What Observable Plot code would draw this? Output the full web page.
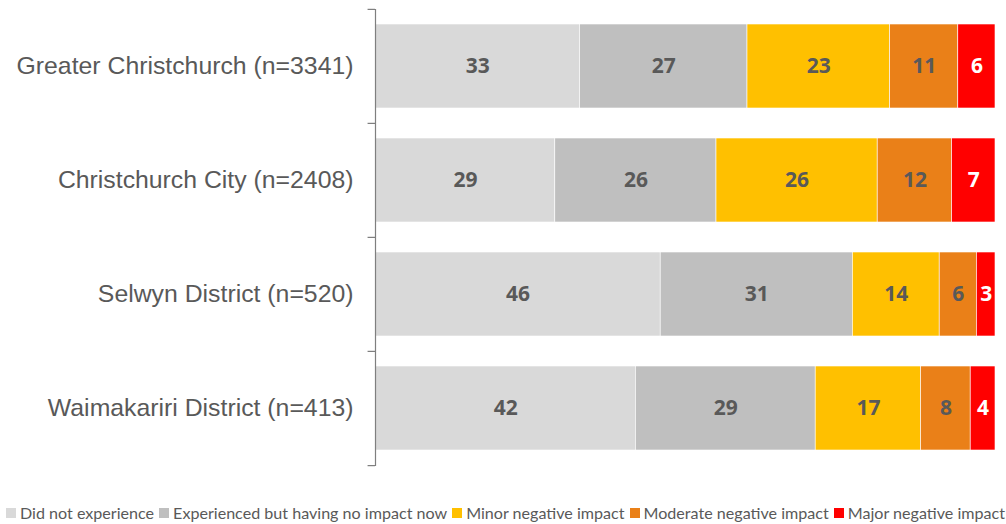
<!DOCTYPE html>
<html>
<head>
<meta charset="utf-8">
<script src="https://cdn.jsdelivr.net/npm/d3@7"></script>
<script src="https://cdn.jsdelivr.net/npm/@observablehq/plot@0.6"></script>
<style>
  html, body { margin: 0; padding: 0; background: #fff; }
  #wrap { position: relative; width: 1006px; height: 524px; overflow: hidden; }
  #legend { position: absolute; left: 0; top: 503px; width: 1006px; display: flex; align-items: center;
            font-family: Lato, "Open Sans", sans-serif; font-size: 16.1px; color: #595959; white-space: nowrap; }
  #legend .item { display: flex; align-items: center; margin-left: 5px; }
  #legend .item:first-child { margin-left: 6px; }
  #legend .sw { width: 10px; height: 10px; margin-right: 4px; }
</style>
</head>
<body>
<div id="wrap"><div id="chart"></div><div id="legend"></div></div>
<script>
// ---- data ----
const categories = [
  "Greater Christchurch (n=3341)",
  "Christchurch City (n=2408)",
  "Selwyn District (n=520)",
  "Waimakariri District (n=413)"
];
const seriesNames = [
  "Did not experience",
  "Experienced but having no impact now",
  "Minor negative impact",
  "Moderate negative impact",
  "Major negative impact"
];
const seriesColors = ["#d9d9d9", "#bfbfbf", "#ffc000", "#ea8018", "#ff0000"];
const greaterChristchurch = [33, 27, 23, 11, 6];
const christchurchCity   = [29, 26, 26, 12, 7];
const selwynDistrict     = [46, 31, 14, 6, 3];
const waimakaririDistrict = [42, 29, 17, 8, 4];

const valuesByCategory = [greaterChristchurch, christchurchCity, selwynDistrict, waimakaririDistrict];
const data = [];
categories.forEach((c, i) => {
  seriesNames.forEach((s, j) => data.push({category: c, series: s, value: valuesByCategory[i][j]}));
});

// ---- layout ----
const W = 1006, H = 496;
const plotTop = 9, plotBottom = 466;
const padIn = 0.26, padOut = 0.13;
const step = (plotBottom - plotTop) / (categories.length - padIn + 2 * padOut);
const major = seriesNames[seriesNames.length - 1];
const textFont = "'Open Sans', Lato, sans-serif";

const chart = Plot.plot({
  width: W,
  height: H,
  marginLeft: 375,
  marginRight: 11,
  marginTop: plotTop,
  marginBottom: H - plotBottom,
  style: {fontFamily: "'Liberation Sans', Arial, sans-serif", color: "#595959", background: "#fff", overflow: "visible"},
  x: {domain: [0, 100], axis: null},
  y: {domain: categories, paddingInner: padIn, paddingOuter: padOut, axis: null},
  color: {domain: seriesNames, range: seriesColors},
  marks: [
    Plot.barX(data, Plot.stackX({x: "value", y: "category", fill: "series", order: seriesNames, stroke: "#fff", strokeWidth: 0.6})),
    Plot.text(data, Plot.filter(d => d.series !== major,
      Plot.stackX({x: "value", y: "category", z: "series", order: seriesNames, text: d => String(d.value),
                   fill: "#595959", fontWeight: "bold", fontSize: 21, fontFamily: textFont}))),
    Plot.text(data, Plot.filter(d => d.series === major,
      Plot.stackX({x: "value", y: "category", z: "series", order: seriesNames, text: d => String(d.value),
                   fill: "#ffffff", fontWeight: "bold", fontSize: 21, fontFamily: textFont}))),
    Plot.ruleX([0], {stroke: "#7f7f7f", strokeWidth: 1.2}),
    Plot.ruleY(categories, {y: d => d, x1: -1.2, x2: 0, dy: -step / 2, stroke: "#7f7f7f", strokeWidth: 1.2}),
    Plot.ruleY([categories[categories.length - 1]], {y: d => d, x1: -1.2, x2: 0, dy: step / 2, stroke: "#7f7f7f", strokeWidth: 1.2}),
    Plot.axisY({tickSize: 0, tickPadding: 22, fontSize: 24.8, label: null, fill: "#595959"})
  ]
});
document.getElementById("chart").appendChild(chart);

// ---- legend ----
const legend = d3.select("#legend");
seriesNames.forEach((s, j) => {
  const item = legend.append("div").attr("class", "item");
  item.append("div").attr("class", "sw").style("background", seriesColors[j]);
  item.append("span").text(s);
});
</script>
</body>
</html>
